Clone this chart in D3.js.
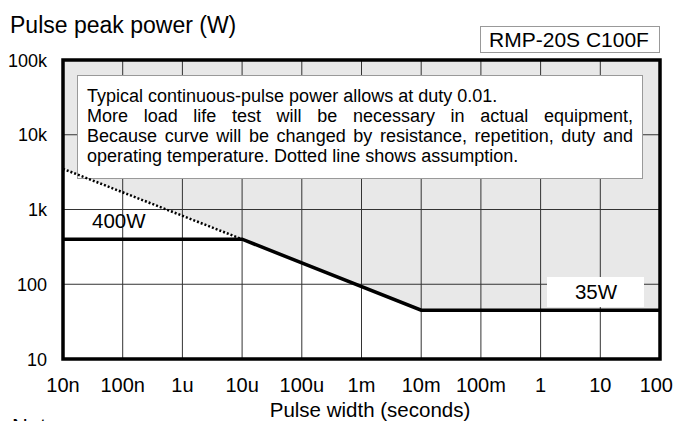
<!DOCTYPE html>
<html>
<head>
<meta charset="utf-8">
<script src="https://cdn.jsdelivr.net/npm/d3@7"></script>
<style>
  body { margin: 0; background: #fff; }
  text { font-family: "Liberation Sans", Arial, sans-serif; fill: #000; }
</style>
</head>
<body>
<div id="chart"></div>
<script>
// axis decades
const xTicks = [1e-8, 1e-7, 1e-6, 1e-5, 1e-4, 1e-3, 1e-2, 1e-1, 1, 10, 100];
const xLabels = ["10n", "100n", "1u", "10u", "100u", "1m", "10m", "100m", "1", "10", "100"];
const yTicks = [10, 100, 1000, 10000, 100000];
const yLabels = ["10", "100", "1k", "10k", "100k"];

// derating curve
const curveW = [1e-8, 1e-5, 1e-2, 100];
const curveP = [400, 400, 45, 45];
// dotted assumption
const dotW = [1e-8, 1e-5];
const dotP = [3500, 400];

const noteLines = [
  "Typical continuous-pulse power allows at duty 0.01.",
  "More load life test will be necessary in actual equipment,",
  "Because curve will be changed by resistance, repetition, duty and",
  "operating temperature. Dotted line shows assumption."
];

const width = 674, height = 421;
const m = {left: 63, right: 14, top: 60, bottom: 62};

const svg = d3.select("#chart").append("svg")
  .attr("width", width)
  .attr("height", height);

const x = d3.scaleLog().domain([1e-8, 100]).range([m.left, width - m.right]);
const y = d3.scaleLog().domain([10, 1e5]).range([height - m.bottom, m.top]);

// gray region above the curve
const areaPts = [
  [dotW[0], dotP[0]], [dotW[1], dotP[1]],
  [curveW[2], curveP[2]], [curveW[3], curveP[3]]
];
svg.append("path")
  .datum(areaPts)
  .attr("fill", "#e8e8e8")
  .attr("d", d3.area()
    .x(d => x(d[0]))
    .y0(y(1e5))
    .y1(d => y(d[1])));

// grid
svg.append("g").selectAll("line")
  .data(xTicks.slice(1, -1))
  .join("line")
  .attr("x1", d => x(d)).attr("x2", d => x(d))
  .attr("y1", y(1e5)).attr("y2", y(10))
  .attr("stroke", "#333").attr("stroke-width", 1);

svg.append("g").selectAll("line")
  .data(yTicks.slice(1, -1))
  .join("line")
  .attr("x1", x(1e-8)).attr("x2", x(100))
  .attr("y1", d => y(d)).attr("y2", d => y(d))
  .attr("stroke", "#333").attr("stroke-width", 1);

// note box
const box = svg.append("g");
box.append("rect")
  .attr("x", 77.5).attr("y", 75.5)
  .attr("width", 565).attr("height", 103)
  .attr("fill", "#fff")
  .attr("stroke", "#999");

const tx0 = 87, tx1 = 633;
noteLines.forEach((line, i) => {
  const yy = 102 + i * 20;
  const justify = (i === 1 || i === 2);
  if (!justify) {
    box.append("text").attr("x", tx0).attr("y", yy)
      .attr("font-size", 18).text(line);
    return;
  }
  const words = line.split(" ");
  const nodes = words.map(w => box.append("text").attr("y", yy)
    .attr("font-size", 18).text(w));
  const widths = nodes.map(n => n.node().getComputedTextLength());
  const gap = (tx1 - tx0 - d3.sum(widths)) / (words.length - 1);
  let cx = tx0;
  nodes.forEach((n, j) => {
    n.attr("x", cx);
    cx += widths[j] + gap;
  });
});

// dotted part
svg.append("path")
  .datum(d3.zip(dotW, dotP))
  .attr("fill", "none")
  .attr("stroke", "#000")
  .attr("stroke-width", 2.5)
  .attr("stroke-dasharray", "2,2")
  .attr("d", d3.line().x(d => x(d[0])).y(d => y(d[1])));

// solid curve
svg.append("path")
  .datum(d3.zip(curveW, curveP))
  .attr("fill", "none")
  .attr("stroke", "#000")
  .attr("stroke-width", 3.5)
  .attr("d", d3.line().x(d => x(d[0])).y(d => y(d[1])));

// labels on curve
svg.append("text").attr("x", 92).attr("y", 228)
  .attr("font-size", 20.5).text("400W");

svg.append("rect")
  .attr("x", 547).attr("y", 277)
  .attr("width", 97).attr("height", 30)
  .attr("fill", "#fff");
svg.append("text").attr("x", 596).attr("y", 299)
  .attr("text-anchor", "middle")
  .attr("font-size", 20.5).text("35W");

// frame
svg.append("rect")
  .attr("x", x(1e-8)).attr("y", y(1e5))
  .attr("width", x(100) - x(1e-8))
  .attr("height", y(10) - y(1e5))
  .attr("fill", "none")
  .attr("stroke", "#000")
  .attr("stroke-width", 3.5);

// tick labels
svg.append("g").selectAll("text")
  .data(yTicks)
  .join("text")
  .attr("x", 47)
  .attr("y", d => y(d) + 6.5)
  .attr("text-anchor", "end")
  .attr("font-size", 18)
  .text((d, i) => yLabels[i]);

svg.append("g").selectAll("text")
  .data(xTicks)
  .join("text")
  .attr("x", (d, i) => i === xTicks.length - 1 ? width - 1 : x(d))
  .attr("y", 392)
  .attr("text-anchor", (d, i) => i === xTicks.length - 1 ? "end" : "middle")
  .attr("font-size", 20)
  .text((d, i) => xLabels[i]);

// titles
svg.append("text").attr("x", 10).attr("y", 33)
  .attr("font-size", 23).text("Pulse peak power (W)");

svg.append("text").attr("x", 370).attr("y", 417)
  .attr("text-anchor", "middle")
  .attr("font-size", 20.5).text("Pulse width (seconds)");

svg.append("rect")
  .attr("x", 480.5).attr("y", 26.5)
  .attr("width", 179).attr("height", 26)
  .attr("fill", "#fff").attr("stroke", "#999");
svg.append("text").attr("x", 569).attr("y", 47)
  .attr("text-anchor", "middle")
  .attr("font-size", 21).text("RMP-20S C100F");

svg.append("text").attr("x", 12).attr("y", 434)
  .attr("font-size", 22).text("Note:");
</script>
</body>
</html>
